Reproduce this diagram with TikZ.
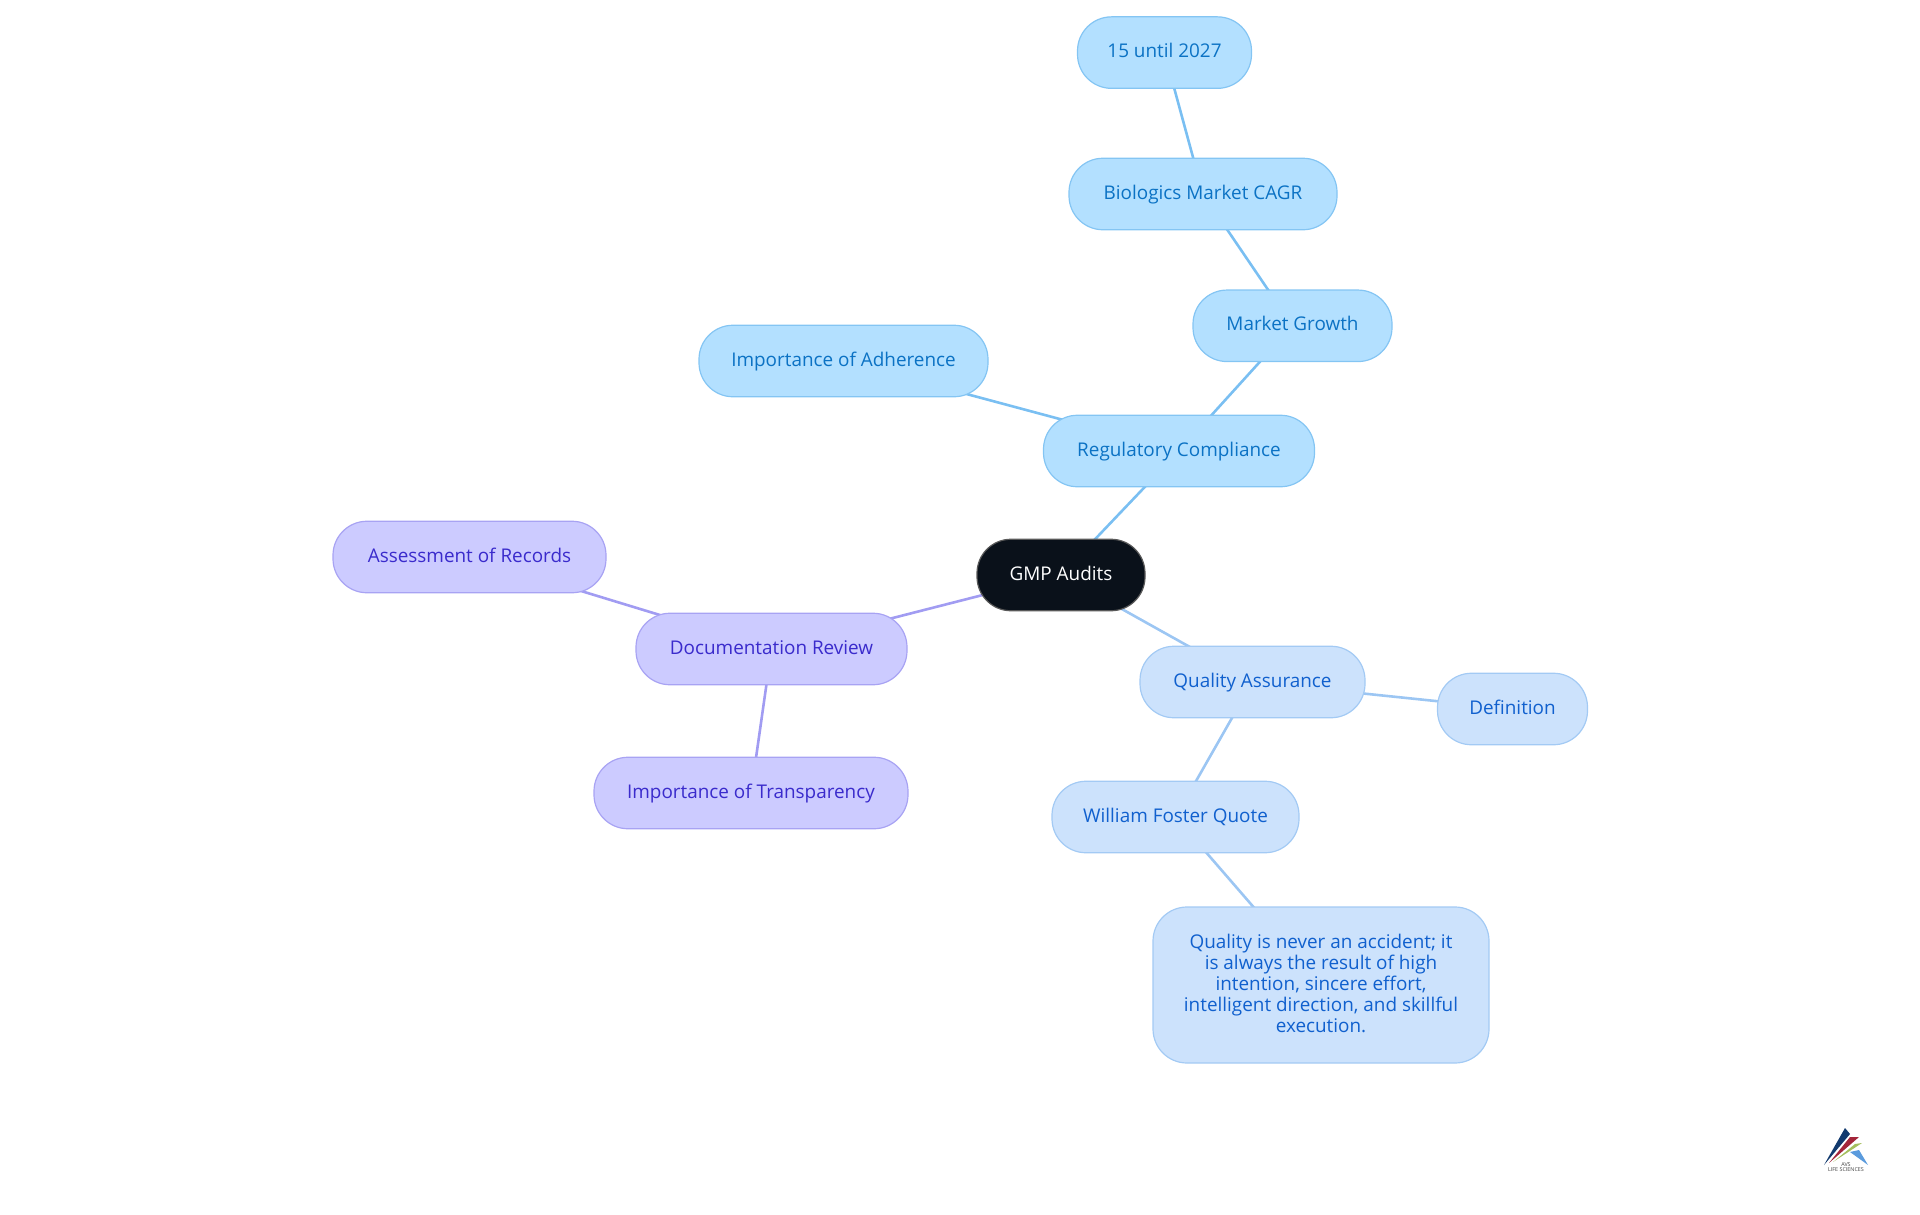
\documentclass[tikz,border=0pt]{standalone}
\usepackage{fontspec}
\setmainfont{Open Sans}
\usetikzlibrary{backgrounds}
\definecolor{cyanfill}{HTML}{B3E0FF}\definecolor{cyanline}{HTML}{84C5F3}\definecolor{cyantext}{HTML}{0B72C4}
\definecolor{bluefill}{HTML}{CCE2FC}\definecolor{blueline}{HTML}{A3CAF4}\definecolor{bluetext}{HTML}{1060CE}
\definecolor{purpfill}{HTML}{CCCBFF}\definecolor{purpline}{HTML}{A8A3F3}\definecolor{purptext}{HTML}{3A2BCC}
\definecolor{rootfill}{HTML}{0A111A}
\definecolor{cyanedge}{HTML}{7ABFF2}\definecolor{blueedge}{HTML}{9CC6F3}\definecolor{purpedge}{HTML}{A19CF2}
\definecolor{logonavy}{HTML}{123A6E}\definecolor{logored}{HTML}{A3263A}\definecolor{logogreen}{HTML}{A5BF5E}\definecolor{logoblue}{HTML}{5B9BDD}
\tikzset{
 mm/.style={rectangle,rounded corners=34pt,line width=1.2pt,inner sep=0pt,align=center,font=\fontsize{18.9}{21}\selectfont,minimum height=71.5pt,text height=15pt,text depth=5pt},
 multi/.style={text height=,text depth=,rounded corners=34pt,minimum height=156pt},
 cnode/.style={mm,fill=cyanfill,draw=cyanline,text=cyantext},
 bnode/.style={mm,fill=bluefill,draw=blueline,text=bluetext},
 pnode/.style={mm,fill=purpfill,draw=purpline,text=purptext},
 rnode/.style={mm,fill=rootfill,draw=gray!70!black,text=white},
 cedge/.style={draw=cyanedge,line width=2.6pt},
 bedge/.style={draw=blueedge,line width=2.6pt},
 pedge/.style={draw=purpedge,line width=2.6pt},
}
\begin{document}
\begin{tikzpicture}[x=1pt,y=-1pt]
\useasboundingbox (0,0) rectangle (1920,1215);
\node[rnode,minimum width=168pt] (root) at (1061,575) {GMP Audits};
\node[cnode,minimum width=271pt] (reg) at (1179,451) {Regulatory Compliance};
\node[cnode,minimum width=289pt] (adh) at (843.5,361) {Importance of Adherence};
\node[cnode,minimum width=199pt] (mkt) at (1292.5,325.8) {Market Growth};
\node[cnode,minimum width=268pt] (bio) at (1203,194) {Biologics Market CAGR};
\node[cnode,minimum width=174pt] (yrs) at (1164.5,52.6) {15 until 2027};
\node[pnode,minimum width=271pt] (doc) at (771.5,649) {Documentation Review};
\node[pnode,minimum width=273pt] (ass) at (469.5,557) {Assessment of Records};
\node[pnode,minimum width=314pt] (tra) at (751,793) {Importance of Transparency};
\node[bnode,minimum width=225pt] (qa) at (1252.5,682) {Quality Assurance};
\node[bnode,minimum width=150pt] (def) at (1512.5,709) {Definition};
\node[bnode,minimum width=247pt] (wil) at (1175.5,817) {William Foster Quote};
\node[bnode,multi,minimum width=336pt] (quo) at (1321,985) {Quality is never an accident; it\\is always the result of high\\intention, sincere effort,\\intelligent direction, and skillful\\execution.\rule[-2.4pt]{0pt}{2.4pt}};
\begin{scope}[on background layer]
\draw[cedge] (root.center) -- (reg.center);
\draw[cedge] (reg.center) -- (adh.center);
\draw[cedge] (reg.center) -- (mkt.center);
\draw[cedge] (mkt.center) -- (bio.center);
\draw[cedge] (bio.center) -- (yrs.center);
\draw[pedge] (root.center) -- (doc.center);
\draw[pedge] (doc.center) -- (ass.center);
\draw[pedge] (doc.center) -- (tra.center);
\draw[bedge] (root.center) -- (qa.center);
\draw[bedge] (qa.center) -- (def.center);
\draw[bedge] (qa.center) -- (wil.center);
\draw[bedge] (wil.center) -- (quo.center);
\end{scope}
% logo
\fill[fill=logonavy] (1824,1165) -- (1845,1128) -- (1850,1134) -- cycle;
\fill[fill=logored] (1829,1163) -- (1850,1137) -- (1859,1137) -- cycle;
\fill[fill=logogreen] (1833,1162) -- (1855,1144) -- (1862,1143) -- cycle;
\fill[fill=logoblue] (1850,1152) -- (1859,1150) -- (1868,1165) -- cycle;
\node[font=\fontsize{5.4}{5.4}\selectfont,text=black!75,align=center,inner sep=0pt] (logotext) at (1846,1167) {AVS\\LIFE SCIENCES};
\end{tikzpicture}
\end{document}
